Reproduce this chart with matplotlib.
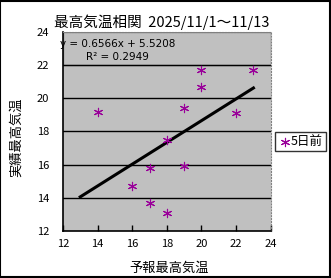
import matplotlib
matplotlib.use("Agg")
import matplotlib.pyplot as plt
from matplotlib.patches import Rectangle

plt.rcParams['font.family'] = ['Noto Sans CJK JP', 'DejaVu Sans']

# forecast max temp (x) vs observed max temp (y)
forecast = [14, 16, 17, 17, 18, 18, 19, 19, 20, 20, 22, 23]
observed = [19.2, 14.7, 15.8, 13.7, 13.1, 17.5, 19.4, 15.9, 21.7, 20.7, 19.1, 21.7]

slope = 0.6566
intercept = 5.5208
r2 = 0.2949
trend_x = [13, 23]

title = "最高気温相関  2025/11/1～11/13"
xlabel = "予報最高気温"
ylabel = "実績最高気温"
series_name = "5日前"
ticks = [12, 14, 16, 18, 20, 22, 24]

fig = plt.figure(figsize=(3.31, 2.78), dpi=100)
ax = fig.add_axes([0.190, 0.169, 0.628, 0.716])
ax.set_facecolor('#c0c0c0')

ax.set_xlim(12, 24)
ax.set_ylim(12, 24)
ax.set_xticks(ticks)
ax.set_yticks(ticks)
ax.tick_params(axis='x', direction='in', length=4, width=1, pad=6, labelsize=8)
ax.tick_params(axis='y', length=0, pad=10, labelsize=8)

for g in ticks[1:-1]:
    ax.axhline(g, color='black', lw=1, zorder=2.5)

for side in ['top', 'right']:
    ax.spines[side].set_color('#808080')
    ax.spines[side].set_linestyle(':')
    ax.spines[side].set_linewidth(0.8)
for side in ['left', 'bottom']:
    ax.spines[side].set_linewidth(1.2)

# equation box
ax.add_patch(Rectangle((12, 22), 12, 2, facecolor='#c0c0c0', edgecolor='#808080',
                       lw=1, zorder=2))
ax.text(0.262, 0.965, f"y = {slope}x + {intercept}\nR² = {r2}", transform=ax.transAxes,
        ha='center', va='top', fontsize=7.5, family=['DejaVu Sans'], linespacing=1.35,
        zorder=3)

ty = [slope * t + intercept for t in trend_x]
ax.plot(trend_x, ty, color='black', lw=2.2, zorder=4)

ax.scatter(forecast, observed, marker=(6, 2, 0), s=36, color='#990099',
           linewidths=0.8, zorder=5, label=series_name)

leg = ax.legend(loc='center', bbox_to_anchor=(0.908, 0.49), bbox_transform=fig.transFigure,
                frameon=True, fancybox=False, fontsize=9, handletextpad=0.0,
                handlelength=1.0, borderpad=0.25, borderaxespad=0)
leg.get_frame().set_edgecolor('black')
leg.get_frame().set_linewidth(1)

fig.text(0.488, 0.921, title, ha='center', va='center', fontsize=10.5)
fig.text(0.51, 0.036, xlabel, ha='center', va='center', fontsize=9.5)
fig.text(0.051, 0.507, ylabel, ha='center', va='center', rotation=90, fontsize=9.5)

fig.patches.append(Rectangle((0.0015, 0.002), 0.996, 0.995, transform=fig.transFigure,
                             fill=False, edgecolor='black', lw=1.5))

fig.savefig("out.png", dpi=100)
